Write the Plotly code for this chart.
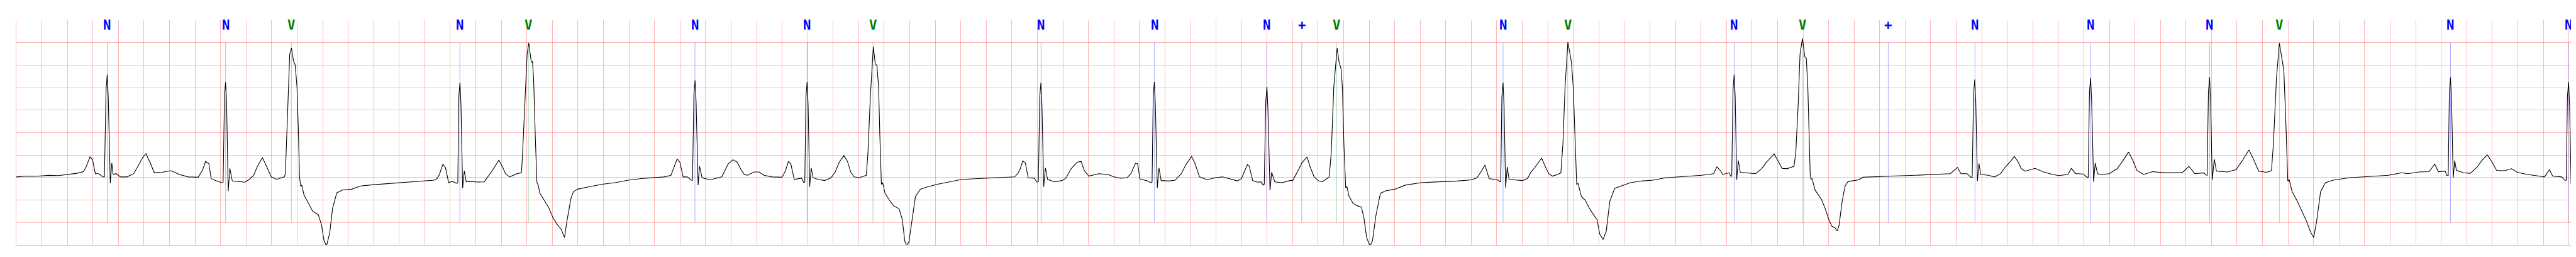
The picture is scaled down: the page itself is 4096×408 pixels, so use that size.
import plotly.graph_objects as go

# ECG trace (time in seconds, amplitude in mV)
ecg_t = [
    0.000, 0.080, 0.160, 0.252, 0.330, 0.406, 0.474, 0.525, 0.546, 0.577, 0.597, 0.619, 0.645, 0.679, 0.690,
    0.703, 0.712, 0.720, 0.736, 0.748, 0.758, 0.782, 0.816, 0.867, 0.919, 0.953, 0.987, 1.015, 1.047, 1.081,
    1.141, 1.210, 1.278, 1.347, 1.424, 1.458, 1.483, 1.509, 1.526, 1.569, 1.608, 1.620,
    1.631, 1.639, 1.647, 1.660, 1.673, 1.692, 1.757, 1.791, 1.826, 1.860, 1.886, 1.928, 1.963, 1.997, 2.040, 2.100,
    2.108, 2.125, 2.142, 2.156, 2.171, 2.185, 2.199, 2.211, 2.219, 2.228, 2.236, 2.254, 2.270, 2.296, 2.322,
    2.365, 2.390, 2.411, 2.430, 2.455, 2.478, 2.511, 2.554, 2.626, 2.698, 2.806, 2.926, 3.045, 3.165, 3.273,
    3.297, 3.315, 3.342, 3.363, 3.387, 3.417, 3.450, 3.459,
    3.467, 3.476, 3.484, 3.497, 3.510, 3.525, 3.549, 3.610, 3.666, 3.691, 3.730, 3.781, 3.807, 3.833, 3.865, 3.922, 3.958,
    3.967, 3.984, 4.002, 4.015, 4.035, 4.044, 4.053, 4.066, 4.079, 4.089, 4.102, 4.134, 4.173, 4.205, 4.237,
    4.269, 4.295, 4.314, 4.346, 4.365, 4.397, 4.487, 4.590, 4.692, 4.795, 4.898, 5.000, 5.077, 5.129, 5.148,
    5.178, 5.199, 5.225, 5.257, 5.289, 5.298,
    5.309, 5.318, 5.326, 5.342, 5.353, 5.373, 5.437, 5.527, 5.546, 5.578, 5.616, 5.648, 5.678, 5.704, 5.729,
    5.781, 5.819, 5.858, 5.922, 5.999, 6.025, 6.050, 6.069, 6.095, 6.153, 6.170, 6.178,
    6.187, 6.196, 6.204, 6.216, 6.228, 6.243, 6.281, 6.333, 6.384, 6.416, 6.448, 6.484, 6.512, 6.538, 6.564, 6.602, 6.660,
    6.673, 6.692, 6.715, 6.730, 6.743, 6.756, 6.766, 6.778, 6.788, 6.807, 6.839, 6.872, 6.917, 6.942, 6.961,
    6.977, 6.994, 7.019, 7.045, 7.083, 7.141, 7.218, 7.321, 7.411, 7.539, 7.690, 7.750, 7.822, 7.846, 7.864,
    7.886, 7.906, 7.928, 7.978, 7.996, 8.008,
    8.019, 8.028, 8.036, 8.050, 8.063, 8.080, 8.134, 8.193, 8.223, 8.265, 8.313, 8.343, 8.367, 8.403, 8.481,
    8.553, 8.601, 8.649, 8.703, 8.733, 8.768, 8.786, 8.804, 8.864, 8.888, 8.899,
    8.908, 8.917, 8.925, 8.940, 8.953, 8.970, 9.032, 9.080, 9.128, 9.164, 9.209, 9.236, 9.271, 9.331, 9.391,
    9.451, 9.569, 9.599, 9.610, 9.646, 9.661, 9.687, 9.723, 9.753, 9.769, 9.778,
    9.790, 9.799, 9.807, 9.823, 9.836, 9.861, 9.918, 9.979, 10.000, 10.020, 10.051, 10.072, 10.113, 10.138,
    10.169, 10.205, 10.236, 10.287,
    10.303, 10.323, 10.349, 10.364, 10.380, 10.390, 10.402, 10.416, 10.426, 10.441, 10.472, 10.503, 10.539,
    10.559, 10.580, 10.606, 10.626, 10.652, 10.688, 10.729, 10.801, 10.883, 11.006, 11.179, 11.290, 11.401,
    11.445, 11.479, 11.507, 11.540, 11.612, 11.625, 11.631,
    11.640, 11.649, 11.657, 11.669, 11.682, 11.696, 11.735, 11.801, 11.840, 11.868, 11.901, 11.951, 11.979,
    12.007, 12.035, 12.079, 12.102,
    12.118, 12.135, 12.157, 12.174, 12.185, 12.199, 12.213, 12.226, 12.237, 12.263, 12.291, 12.324, 12.357,
    12.385, 12.407, 12.433, 12.458, 12.485, 12.524, 12.580, 12.647, 12.736, 12.825, 12.922, 13.017, 13.111,
    13.205, 13.299, 13.325, 13.355, 13.369, 13.421, 13.431, 13.441,
    13.451, 13.460, 13.468, 13.480, 13.492, 13.508, 13.581, 13.628, 13.675, 13.713, 13.774, 13.807, 13.835,
    13.873, 13.929,
    13.943, 13.962, 13.976, 13.995, 14.014, 14.025, 14.037, 14.047, 14.056, 14.063, 14.070, 14.094, 14.117,
    14.146, 14.174, 14.202, 14.226, 14.249, 14.268, 14.282, 14.306, 14.329, 14.353, 14.398, 14.434, 14.470,
    14.578, 14.697, 14.877, 15.057, 15.153, 15.210, 15.237, 15.285, 15.314, 15.325,
    15.336, 15.345, 15.353, 15.366, 15.378, 15.392, 15.452, 15.500, 15.548, 15.584, 15.620, 15.656, 15.686,
    15.710, 15.740, 15.818, 15.884, 15.955, 16.004, 16.075, 16.102, 16.135, 16.195, 16.225, 16.234,
    16.244, 16.253, 16.261, 16.276, 16.289, 16.307, 16.338, 16.399, 16.461, 16.507, 16.550, 16.584, 16.615,
    16.669, 16.738, 16.831, 16.969, 17.023, 17.069, 17.139, 17.157, 17.166,
    17.176, 17.185, 17.193, 17.206, 17.222, 17.239, 17.323, 17.393, 17.447, 17.493, 17.531, 17.570, 17.632, 17.670,
    17.685, 17.709, 17.732, 17.752, 17.767, 17.782, 17.798, 17.809, 17.832, 17.870, 17.909, 17.947, 17.978,
    18.001, 18.024, 18.055, 18.093, 18.155, 18.278, 18.432, 18.586, 18.691, 18.736, 18.826, 18.906, 18.949,
    18.978, 19.032, 19.042, 19.055,
    19.064, 19.073, 19.081, 19.094, 19.106, 19.119, 19.175, 19.229, 19.282, 19.318, 19.361, 19.399, 19.434,
    19.497, 19.551, 19.596, 19.676, 19.766, 19.810, 19.848, 19.873, 19.945, 19.967, 19.980,
    19.989, 19.998, 20.006, 20.018, 20.031, 20.045, 20.061, 20.066,
]

ecg_v = [
    0.015, 0.033, 0.030, 0.050, 0.045, 0.076, 0.095, 0.130, 0.233, 0.459, 0.397, 0.087, 0.087, 0.015, 0.020,
    1.950, 2.290, 1.800, -0.124, 0.324, 0.070, 0.087, 0.015, 0.015, 0.087, 0.251, 0.433, 0.532, 0.342, 0.106,
    0.117, 0.153, 0.069, 0.015, 0.007, 0.160, 0.360, 0.306, -0.022, -0.076, -0.113, -0.110,
    1.800, 2.120, 1.700, -0.302, 0.204, -0.076, -0.095, -0.102, -0.040, 0.051, 0.233, 0.444, 0.233, 0.015, -0.040, 0.015,
    0.087, 1.290, 2.746, 2.880, 2.600, 2.500, 2.020, 0.925, 0.015, -0.197, -0.168, -0.386, -0.477, -0.623, -0.750,
    -0.823, -1.040, -1.406, -1.520, -1.240, -0.680, -0.340, -0.277, -0.259, -0.186, -0.157, -0.131, -0.113, -0.087, -0.058,
    -0.022, 0.069, 0.299, 0.215, -0.113, -0.084, -0.131, -0.120,
    1.800, 2.108, 1.600, -0.240, 0.153, -0.095, -0.084, -0.100, -0.095, 0.000, 0.160, 0.386, 0.251, 0.087, 0.015, 0.087, 0.106,
    0.561, 1.653, 2.746, 2.993, 2.564, 2.582, 2.200, 0.925, -0.113, -0.168, -0.350, -0.495, -0.677, -0.896, -1.040,
    -1.150, -1.333, -0.969, -0.459, -0.313, -0.259, -0.204, -0.149, -0.113, -0.058, -0.022, -0.004, 0.015, 0.051, 0.197,
    0.415, 0.342, 0.015, 0.015, -0.058, -0.060,
    1.850, 2.163, 1.700, -0.168, 0.251, -0.004, -0.051, 0.015, 0.124, 0.306, 0.397, 0.342, 0.178, 0.069, 0.051,
    0.124, 0.124, 0.051, 0.015, 0.007, 0.142, 0.360, 0.299, -0.040, -0.015, -0.113, -0.100,
    1.800, 2.127, 1.600, -0.204, 0.215, -0.004, -0.040, -0.066, -0.004, 0.124, 0.342, 0.488, 0.360, 0.124, 0.015, -0.004, 0.051,
    0.561, 1.835, 2.910, 2.527, 2.490, 2.017, 0.925, -0.149, -0.113, -0.350, -0.495, -0.623, -0.696, -0.932, -1.406,
    -1.522, -1.424, -0.896, -0.422, -0.259, -0.204, -0.149, -0.095, -0.040, -0.022, -0.004, 0.007, 0.015, 0.087, 0.178,
    0.371, 0.324, -0.004, -0.015, -0.102, -0.090,
    1.800, 2.108, 1.600, -0.204, 0.215, -0.040, -0.095, -0.066, -0.015, 0.197, 0.342, 0.360, 0.160, 0.033, 0.087,
    0.069, 0.015, -0.015, -0.004, 0.087, 0.313, 0.306, -0.029, -0.076, -0.113, -0.100,
    1.800, 2.127, 1.600, -0.233, 0.215, -0.066, -0.076, -0.058, 0.087, 0.288, 0.470, 0.306, 0.015, -0.051, -0.004,
    0.015, -0.076, -0.022, 0.051, 0.288, 0.251, -0.066, -0.102, -0.095, -0.168, -0.150,
    1.700, 2.017, 1.500, -0.284, 0.117, -0.095, -0.113, -0.066, -0.066, 0.033, 0.197, 0.324, 0.459, 0.233,
    0.015, -0.076, -0.087, 0.015,
    0.561, 2.017, 2.884, 2.564, 2.418, 2.017, 0.743, -0.222, -0.204, -0.404, -0.568, -0.623, -0.659,
    -0.896, -1.333, -1.522, -1.406, -0.859, -0.350, -0.295, -0.259, -0.168, -0.113, -0.090, -0.076, -0.051,
    -0.004, 0.142, 0.277, -0.022, -0.058, -0.095, -0.090,
    1.800, 2.108, 1.600, -0.222, 0.240, -0.040, -0.051, -0.066, -0.022, 0.124, 0.233, 0.433, 0.251,
    0.087, 0.033, 0.069, 0.106,
    0.743, 2.017, 3.008, 2.746, 2.564, 2.017, 0.925, -0.149, -0.131, -0.422, -0.495, -0.677, -0.823,
    -0.932, -1.260, -1.377, -1.187, -0.532, -0.240, -0.186, -0.113, -0.076, -0.058, -0.004, 0.015, 0.033,
    0.051, 0.087, 0.240, 0.142, 0.069, 0.106, 0.033, 0.030,
    1.950, 2.290, 1.800, -0.051, 0.379, 0.117, 0.095, 0.087, 0.197, 0.342, 0.524, 0.360, 0.204,
    0.197, 0.251,
    0.561, 1.653, 2.746, 3.092, 2.680, 2.655, 2.017, 0.925, 0.051, -0.040, -0.022, -0.277, -0.368,
    -0.495, -0.696, -0.932, -1.085, -1.114, -1.187, -1.060, -0.532, -0.186, -0.087, -0.066, -0.051, 0.007,
    0.015, 0.033, 0.051, 0.069, 0.087, 0.226, 0.087, 0.087, 0.007, 0.000,
    1.850, 2.181, 1.700, -0.076, 0.313, 0.069, 0.051, 0.015, 0.087, 0.233, 0.342, 0.470, 0.342,
    0.197, 0.142, 0.204, 0.124, 0.069, 0.044, 0.069, 0.204, 0.087, 0.080, 0.007, 0.000,
    1.900, 2.218, 1.700, -0.095, 0.324, 0.087, 0.069, 0.087, 0.197, 0.379, 0.568, 0.379, 0.160,
    0.069, 0.131, 0.106, 0.106, 0.251, 0.087, 0.106, 0.058, 0.050,
    1.900, 2.229, 1.700, -0.051, 0.408, 0.142, 0.124, 0.178, 0.397, 0.615, 0.397, 0.142, 0.117, 0.153,
    0.743, 2.200, 2.990, 2.637, 2.382, 1.289, -0.076, -0.051, -0.313, -0.513, -0.750, -0.987, -1.224,
    -1.333, -0.969, -0.313, -0.113, -0.058, -0.004, 0.022, 0.051, 0.106, 0.087, 0.124, 0.131, 0.299,
    0.131, 0.142, 0.051, 0.050,
    1.900, 2.229, 1.700, -0.004, 0.379, 0.160, 0.106, 0.095, 0.233, 0.379, 0.506, 0.342, 0.160,
    0.153, 0.197, 0.117, 0.069, 0.033, 0.015, 0.178, 0.033, 0.015, -0.058, -0.060,
    1.800, 2.127, 1.600, -0.149, 0.240, 0.015, 0.044, 0.040,
]

# Beat annotations
ann_t = [0.712, 1.640, 2.155, 3.475, 4.012, 5.317, 6.196, 6.712, 8.029, 8.918, 9.798, 10.072,
         10.345, 11.649, 12.156, 13.460, 13.994, 14.667, 15.347, 16.252, 17.185, 17.732, 19.073, 19.998]
ann_sym = ["N", "N", "V", "N", "V", "N", "N", "V", "N", "N", "N", "+",
           "V", "N", "V", "N", "V", "+", "N", "N", "N", "V", "N", "N"]

assert len(ecg_t) == len(ecg_v), (len(ecg_t), len(ecg_v))

sym_color = {"N": "rgb(0,0,255)", "V": "rgb(0,128,0)", "+": "rgb(0,0,255)"}
mark_color = {"N": "rgba(0,0,255,0.55)", "V": "rgba(0,128,0,0.55)", "+": "rgba(0,0,255,0.55)"}

fig = go.Figure()
fig.add_trace(go.Scatter(x=ecg_t, y=ecg_v, mode="lines",
                         line=dict(color="black", width=1.1),
                         hoverinfo="skip", showlegend=False))

for t, s in zip(ann_t, ann_sym):
    fig.add_shape(type="line", xref="x", yref="y", x0=t, x1=t, y0=-1, y1=3,
                  line=dict(color=mark_color[s], width=0.6), layer="below")
    fig.add_annotation(x=t, y=3.395, xref="x", yref="y", text=s, showarrow=False,
                       xanchor="center", yanchor="middle",
                       font=dict(family="DejaVu Sans Mono", size=20.7,
                                 color=sym_color[s], weight="bold"))

grid = "rgba(255,0,0,0.28)"
fig.update_xaxes(range=[0, 20.066], tick0=0, dtick=0.2, showgrid=True, gridcolor=grid,
                 gridwidth=1, showline=True, linecolor=grid, linewidth=1,
                 zeroline=False, showticklabels=False, ticks="")
fig.update_yaxes(range=[-1.5, 3.5], tick0=0, dtick=0.5, showgrid=True, gridcolor=grid,
                 gridwidth=1, showline=True, linecolor=grid, linewidth=1,
                 zeroline=False, showticklabels=False, ticks="")
fig.update_layout(width=4096, height=408, autosize=False,
                  margin=dict(l=18, r=6, t=24, b=27),
                  plot_bgcolor="white", paper_bgcolor="white", showlegend=False)

fig.write_html("out.html")
